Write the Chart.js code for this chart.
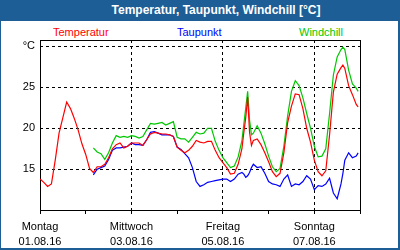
<!DOCTYPE html>
<html>
<head>
<meta charset="utf-8">
<script src="https://cdn.jsdelivr.net/npm/chart.js@4"></script>
<style>
  html, body { margin: 0; padding: 0; }
  body {
    width: 400px; height: 250px; position: relative; overflow: hidden;
    background: #1d5e96; font-family: "Liberation Sans", Arial, sans-serif;
  }
  #panel { position: absolute; left: 1px; top: 21px; width: 397px; height: 227px; background: #fff; }
  #title {
    position: absolute; left: 0; top: 0; width: 432px; height: 21px; line-height: 21px;
    text-align: center; color: #fff; font-weight: bold; font-size: 12px;
  }
  .lbl { position: absolute; top: 26px; line-height: 13px; font-size: 11px; }
  #chart { position: absolute; left: 0; top: 0; }
</style>
</head>
<body>
<div id="panel"></div>
<div id="title">Temperatur, Taupunkt, Windchill [°C]</div>
<div class="lbl" style="left:53px;color:#ff0000">Temperatur</div>
<div class="lbl" style="left:177px;color:#0000ff">Taupunkt</div>
<div class="lbl" style="left:299px;color:#00c800">Windchill</div>
<canvas id="chart" width="400" height="250"></canvas>
<script>
// hours since Monday 01.08.16 00:00
const hours = [0, 2, 4, 6, 8, 10, 12, 14, 16, 18, 20, 22, 24, 26, 28, 30, 32, 34, 36, 38,
  40, 42, 44, 46, 48, 50, 52, 54, 56, 58, 60, 62, 64, 66, 68, 70, 72, 74, 76, 78,
  80, 82, 84, 86, 88, 90, 92, 94, 96, 98, 100, 102, 104, 106, 107, 108, 109, 110, 111, 112,
  114, 116, 118, 120, 122, 124, 126, 128, 130, 132, 134, 136, 138, 140, 142, 144, 146, 148, 150, 152,
  154, 156, 158, 159, 160, 162, 164, 166, 167];

const temperatur = [13.8, 13.4, 12.9, 13.2, 16.1, 19.4, 21.3, 23.2, 22.4, 21.2, 19.8, 18.1, 16.8, 15.1, 14.6, 15.3, 15.3, 15.6, 16.4, 17.5,
  18.0, 18.2, 17.6, 17.8, 18.2, 18.2, 18.2, 17.9, 18.6, 19.3, 19.5, 19.4, 19.3, 19.3, 19.2, 19.0, 17.7, 17.3, 17.0, 17.3,
  17.8, 18.5, 18.3, 18.2, 18.4, 18.4, 17.3, 16.4, 15.8, 15.2, 14.4, 14.5, 15.6, 17.5, 19.5, 21.3, 23.8, 19.5, 17.9, 18.5,
  18.7, 18.0, 17.0, 15.9, 14.7, 14.1, 14.5, 17.0, 20.7, 22.7, 24.2, 24.1, 22.4, 20.0, 18.3, 16.1, 14.7, 14.2, 14.8, 19.2,
  24.4, 26.6, 27.4, 27.7, 27.3, 25.2, 24.1, 22.9, 22.6];

const taupunkt = [null, null, null, null, null, null, null, null, null, null, null, null, null, null, 14.3, 15.0, 15.2, 15.4, 16.2, 17.3,
  17.6, 17.6, 17.7, 17.8, 18.2, 18.0, 18.0, 17.9, 18.6, 19.5, 19.6, 19.4, 19.2, 19.2, 19.2, 19.0, 17.7, 17.4, 16.9, 16.4,
  15.2, 13.5, 12.9, 13.1, 13.4, 13.5, 13.6, 13.7, 13.8, 13.8, 13.5, 13.8, 14.4, 14.6, 14.4, 14.0, 14.2, 14.6, 15.2, 15.6,
  15.2, 15.3, 14.5, 13.5, 13.2, 13.1, 12.9, 13.8, 14.3, 12.9, 13.2, 13.1, 13.5, 14.2, 13.8, 12.5, 13.0, 12.9, 13.2, 13.9,
  12.1, 11.4, 13.2, 14.5, 16.1, 17.0, 16.4, 16.6, 17.0];

const windchill = [null, null, null, null, null, null, null, null, null, null, null, null, null, null, 17.6, 17.1, 16.9, 16.2, 17.0, 18.2,
  19.1, 18.9, 19.0, 18.9, 19.1, 19.0, 18.8, 19.0, 19.8, 20.6, 20.5, 20.6, 20.7, 20.4, 20.6, 20.8, 18.9, 18.7, 18.7, 18.3,
  18.9, 19.5, 19.3, 19.4, 20.0, 20.0, 18.4, 17.3, 16.4, 15.8, 15.2, 15.4, 16.5, 18.5, 20.5, 22.5, 24.5, 21.0, 19.2, 19.4,
  20.3, 19.4, 18.1, 16.6, 15.3, 14.7, 15.1, 17.8, 21.5, 24.5, 25.8, 25.2, 23.7, 21.8, 20.0, 17.8, 16.5, 16.6, 17.5, 21.8,
  26.5, 28.7, 29.6, 29.9, 29.6, 27.1, 25.4, 24.9, 24.5];

const dayTicks = [0, 24, 48, 72, 96, 120, 144, 168];
const labelHours = [0, 48, 96, 144];
const weekdays = ['Montag', 'Mittwoch', 'Freitag', 'Sonntag'];
const dates = ['01.08.16', '03.08.16', '05.08.16', '07.08.16'];
const yTicks = [15, 20, 25, 30];

const FONT = { family: '"Liberation Sans", Arial, sans-serif', size: 11 };

const toPoints = vals => vals.map((v, i) => ({ x: hours[i], y: v }));

// solid frame around the plot area
const framePlugin = {
  id: 'frame',
  beforeDatasetsDraw(chart) {
    const { ctx, chartArea: a } = chart;
    ctx.save();
    ctx.strokeStyle = '#000';
    ctx.lineWidth = 1;
    ctx.strokeRect(a.left + 0.5, a.top + 0.5, a.right - a.left - 1, a.bottom - a.top - 1);
    ctx.restore();
  }
};

new Chart(document.getElementById('chart'), {
  type: 'line',
  data: {
    datasets: [
      { label: 'Temperatur', data: toPoints(temperatur), borderColor: '#ff0000' },
      { label: 'Taupunkt', data: toPoints(taupunkt), borderColor: '#0000ff' },
      { label: 'Windchill', data: toPoints(windchill), borderColor: '#00c800' }
    ]
  },
  options: {
    responsive: false,
    animation: false,
    devicePixelRatio: 1,
    layout: { padding: { top: 40, right: 39, left: 0, bottom: 0 } },
    elements: {
      line: { borderWidth: 1.2, tension: 0, fill: false },
      point: { radius: 0 }
    },
    plugins: { legend: { display: false }, tooltip: { enabled: false } },
    scales: {
      x: {
        type: 'linear',
        min: 0,
        max: 168.5,
        afterBuildTicks: s => { s.ticks = dayTicks.map(v => ({ value: v })); },
        afterFit: s => { s.height = 39; },
        grid: {
          color: c => (c.tick && labelHours.includes(c.tick.value) && c.tick.value > 0) ? '#000' : 'rgba(0,0,0,0)',
          tickColor: '#000',
          tickLength: 3,
          lineWidth: 1
        },
        border: { display: false, dash: [3, 3] },
        ticks: {
          autoSkip: false,
          maxRotation: 0,
          padding: 5,
          color: '#000',
          font: { ...FONT, lineHeight: '15px' },
          callback: v => {
            const i = labelHours.indexOf(v);
            return i >= 0 ? [weekdays[i], dates[i]] : '';
          }
        }
      },
      y: {
        min: 9.9,
        max: 30.77,
        afterBuildTicks: s => { s.ticks = yTicks.map(v => ({ value: v })); },
        afterFit: s => { s.width = 40; },
        grid: { color: '#000', drawTicks: false, lineWidth: 1 },
        border: { display: false, dash: [3, 3] },
        ticks: {
          padding: 5,
          color: '#000',
          font: FONT,
          callback: v => (v === 30 ? '°C' : String(v))
        }
      }
    }
  },
  plugins: [framePlugin]
});
</script>
</body>
</html>
